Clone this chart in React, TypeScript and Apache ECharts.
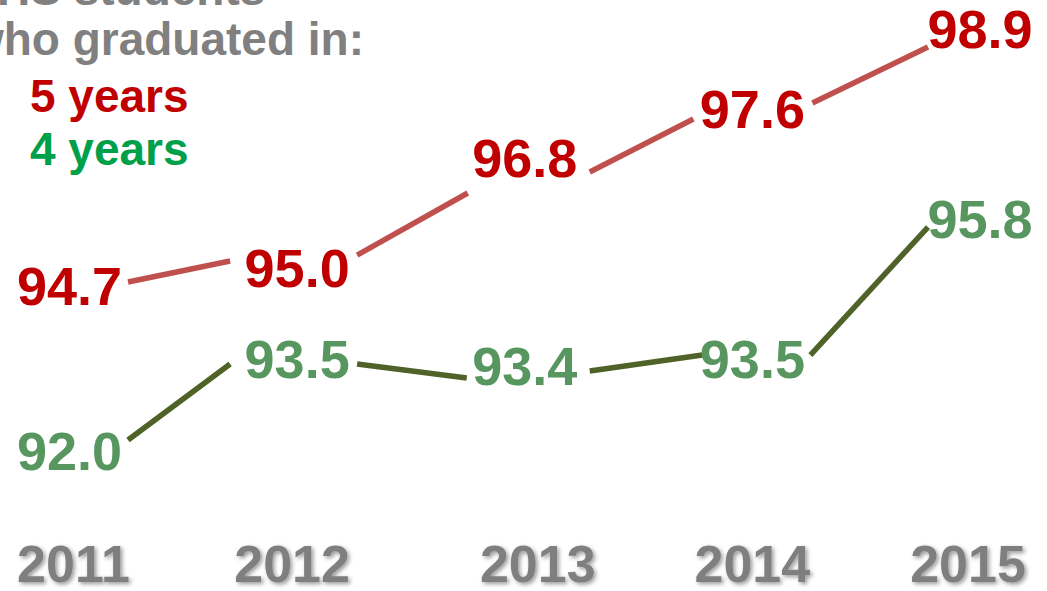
import React, { useEffect, useRef } from "react";
import * as echarts from "echarts";

const years = ["2011", "2012", "2013", "2014", "2015"];
const fiveYear = [94.7, 95.0, 96.8, 97.6, 98.9];
const fourYear = [92.0, 93.5, 93.4, 93.5, 95.8];
const titleLines = ["HS students", "who graduated in:"];
const legendLabels = ["5 years", "4 years"];

const FONT = "'Liberation Sans', Arial, sans-serif";
// small horizontal nudges of the year labels (px, +right)
const yearShift: Record<string, number> = { "2011": 4, "2012": -5, "2013": 13, "2014": 0, "2015": -12 };
// connector trimming: pixel offsets of each segment's ends from the two labels' centres
const fiveTrim = [
  [58.5, -4, -67, -6.6],
  [60, -12.6, -57, 35.5],
  [65, 14.5, -59, 10.5],
  [60, -5.5, -52, 18],
];
const fourTrim = [
  [58.5, -11.2, -67, 4.6],
  [60, 4.6, -58, 12.5],
  [65, 5.5, -50, -4.4],
  [58, -4.4, -52, 8.4],
];

const segments = (vals: number[]) => vals.slice(0, -1).map((v, i) => [i, v, vals[i + 1]]);

export default function App() {
  const ref = useRef<HTMLDivElement>(null);
  useEffect(() => {
    const chart = echarts.init(ref.current!, null, { renderer: "svg" });
    const rich: Record<string, any> = {};
    years.forEach((y) => {
      const s = yearShift[y];
      rich["y" + y] = {
        fontSize: 52,
        fontWeight: "bold",
        fontFamily: FONT,
        color: "#7f7f7f",
        padding: s >= 0 ? [0, 0, 0, 2 * s] : [0, -2 * s, 0, 0],
        textShadowColor: "rgba(0,0,0,0.4)",
        textShadowBlur: 4,
        textShadowOffsetX: 2,
        textShadowOffsetY: 2,
      };
    });
    const labelBase = {
      show: true,
      position: "inside",
      fontSize: 54,
      fontWeight: "bold",
      fontFamily: FONT,
      opacity: 1,
      formatter: (p: any) => Number(p.value).toFixed(1),
    };
    const txt = (text: string, x: number, y: number, fill: string, align: string) => ({
      type: "text",
      x,
      y,
      style: { text, fontSize: 46, fontWeight: "bold", fontFamily: FONT, fill, verticalAlign: "middle", align },
    });
    const connector = (trim: number[][], color: string) => (params: any, api: any) => {
      const i = api.value(0);
      const p0 = api.coord([i, api.value(1)]);
      const p1 = api.coord([i + 1, api.value(2)]);
      const t = trim[params.dataIndex];
      return {
        type: "line",
        shape: { x1: p0[0] + t[0], y1: p0[1] + t[1], x2: p1[0] + t[2], y2: p1[1] + t[3] },
        style: { stroke: color, lineWidth: 5.5, lineCap: "butt" },
      };
    };
    const labelSeries = (name: string, data: number[], color: string) => ({
      name,
      type: "line",
      data,
      symbol: "circle",
      symbolSize: 1,
      itemStyle: { color: "rgba(255,255,255,0)" },
      lineStyle: { width: 0, opacity: 0 },
      label: { ...labelBase, color },
      z: 2,
    });
    chart.setOption({
      animation: false,
      grid: { left: 69.5, right: 67, top: 22.9, bottom: 17.4, containLabel: false },
      xAxis: {
        type: "category",
        data: years,
        boundaryGap: false,
        axisLine: { show: false },
        axisTick: { show: false },
        splitLine: { show: false },
        axisLabel: {
          margin: -10,
          verticalAlign: "middle",
          interval: 0,
          formatter: (v: string) => `{y${v}|${v}}`,
          rich,
        },
      },
      yAxis: {
        type: "value",
        min: 90,
        max: 99,
        show: false,
      },
      graphic: [
        txt(titleLines[0], -3, -10.9, "#808080", "left"),
        txt(titleLines[1], 364, 39.1, "#808080", "right"),
        txt(legendLabels[0], 30, 96.1, "#c00000", "left"),
        txt(legendLabels[1], 30, 149.1, "#00a04a", "left"),
      ],
      series: [
        {
          name: "5 years line",
          type: "custom",
          data: segments(fiveYear),
          encode: { x: 0, y: [1, 2] },
          renderItem: connector(fiveTrim, "#c0504d"),
          z: 1,
        },
        {
          name: "4 years line",
          type: "custom",
          data: segments(fourYear),
          encode: { x: 0, y: [1, 2] },
          renderItem: connector(fourTrim, "#4f6228"),
          z: 1,
        },
        labelSeries("5 years", fiveYear, "#c00000"),
        labelSeries("4 years", fourYear, "#57975f"),
      ],
    });
    return () => chart.dispose();
  }, []);
  return (
    <div
      ref={ref}
      style={{ position: "fixed", left: 0, top: 0, width: 1047, height: 591, background: "#fff" }}
    />
  );
}
